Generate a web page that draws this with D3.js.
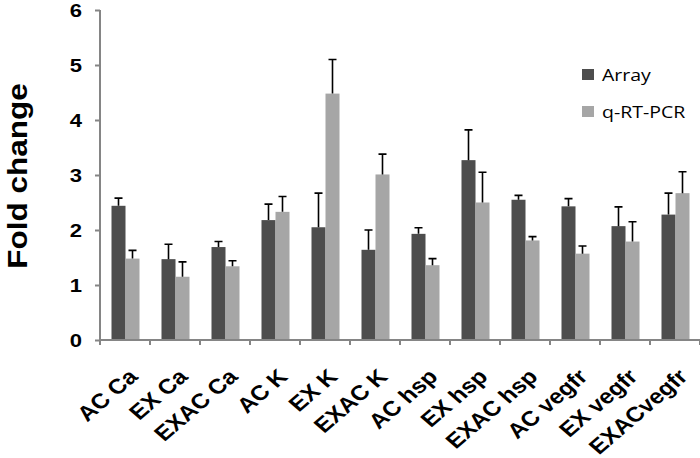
<!DOCTYPE html>
<html><head><meta charset="utf-8">
<script src="https://cdn.jsdelivr.net/npm/d3@7"></script>
<style>body{margin:0;background:#fff;} svg{display:block;}</style>
</head><body>
<svg id="c" width="700" height="458"></svg>
<script>
const categories = ["AC Ca","EX Ca","EXAC Ca","AC K","EX K","EXAC K","AC hsp","EX hsp","EXAC hsp","AC vegfr","EX vegfr","EXACvegfr"];
const seriesNames = ["Array","q-RT-PCR"];
const arrayVals = [2.44,1.47,1.69,2.18,2.05,1.64,1.93,3.27,2.55,2.43,2.07,2.28];
const arrayErr  = [0.14,0.27,0.10,0.29,0.62,0.36,0.11,0.55,0.08,0.14,0.35,0.39];
const pcrVals   = [1.48,1.15,1.34,2.33,4.48,3.01,1.36,2.50,1.81,1.57,1.79,2.67];
const pcrErr    = [0.15,0.27,0.10,0.28,0.62,0.37,0.12,0.55,0.07,0.14,0.36,0.39];
const yTicks = [0,1,2,3,4,5,6];
const colors = ["#4d4d4d","#a6a6a6"];

const svg = d3.select("#c");
const axisColor = "#858585";
const x0 = d3.scaleBand().domain(categories).range([100,700]).padding(0);
const x1 = d3.scaleBand().domain(seriesNames).range([11.5,39.5]).padding(0);
const y = d3.scaleLinear().domain([0,6]).range([340,10]);

const data = categories.map((c,i)=>({cat:c, vals:[
  {s:seriesNames[0], v:arrayVals[i], e:arrayErr[i]},
  {s:seriesNames[1], v:pcrVals[i], e:pcrErr[i]}]}));

const g = svg.selectAll("g.grp").data(data).enter().append("g")
  .attr("transform", d=>`translate(${x0(d.cat)},0)`);
g.selectAll("rect").data(d=>d.vals).enter().append("rect")
  .attr("x", d=>x1(d.s)).attr("width", x1.bandwidth())
  .attr("y", d=>y(d.v)).attr("height", d=>y(0)-y(d.v))
  .attr("fill", (d,i)=>colors[i]);
// error bars
g.selectAll("path.err").data(d=>d.vals).enter().append("path")
  .attr("class","err")
  .attr("d", d=>{const cx=x1(d.s)+x1.bandwidth()/2; return `M${cx},${y(d.v)}V${y(d.v+d.e)}M${cx-4},${y(d.v+d.e)}H${cx+4}`;})
  .attr("stroke","#000").attr("stroke-width",1.6).attr("fill","none");

// y axis
const yAxis = svg.append("g").attr("transform","translate(100,0)")
  .call(d3.axisLeft(y).tickValues(yTicks).tickSize(5).tickFormat(d3.format("d")));
yAxis.select(".domain").attr("stroke",axisColor).attr("stroke-width",2).attr("d","M0,10V340");
yAxis.selectAll(".tick line").attr("stroke",axisColor).attr("stroke-width",2);
yAxis.selectAll(".tick text").attr("x",null).attr("dy","0.35em")
  .attr("transform","translate(-18,0) scale(1.26,1)")
  .attr("fill","#000").style("font","bold 17.5px 'Liberation Sans', Arial, sans-serif");

// x axis
const xAxis = svg.append("g").attr("transform","translate(0,340)")
  .call(d3.axisBottom(x0).tickSize(0).tickFormat(""));
xAxis.select(".domain").attr("stroke",axisColor).attr("stroke-width",2).attr("d","M100,0H700");
const edges = d3.range(categories.length+1).map(i=>x0.range()[0]+i*x0.step());
svg.append("g").selectAll("line").data(edges).enter().append("line")
  .attr("x1",d=>d).attr("x2",d=>d).attr("y1",340).attr("y2",345)
  .attr("stroke",axisColor).attr("stroke-width",2);
svg.append("g").selectAll("text").data(categories).enter().append("text")
  .attr("transform", d=>`translate(${x0(d)+x0.bandwidth()/2+14},378) scale(1.16,1) rotate(-45)`)
  .attr("text-anchor","end")
  .style("font","bold 21px 'Liberation Sans', Arial, sans-serif")
  .text(d=>d);

// y title
svg.append("text").attr("transform","translate(27,176) scale(0.88,1) rotate(-90)")
  .attr("text-anchor","middle")
  .style("font","bold 31.5px 'Liberation Sans', Arial, sans-serif")
  .text("Fold change");

// legend
const lg = svg.append("g").selectAll("g").data(seriesNames).enter().append("g")
  .attr("transform",(d,i)=>`translate(582,${69+i*37})`);
lg.append("rect").attr("width",12).attr("height",11).attr("fill",(d,i)=>colors[i]);
lg.append("text").attr("transform","translate(20,12) scale(1.22,1)")
  .style("font","16px 'Open Sans', sans-serif").attr("fill","#000").text(d=>d);
</script>
</body></html>
